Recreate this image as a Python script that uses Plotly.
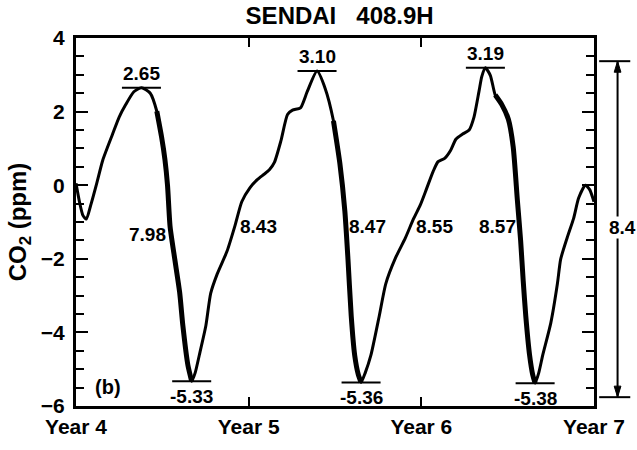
import plotly.graph_objects as go

# Detrended CO2 seasonal cycle at Sendai (408.9H), years 4-7
years = [
    4.000, 4.020, 4.040, 4.060, 4.085, 4.120, 4.155, 4.212, 4.250, 4.288,
    4.335, 4.379, 4.430, 4.468, 4.496, 4.515, 4.530, 4.545, 4.572, 4.600,
    4.619, 4.648, 4.670, 4.690, 4.714, 4.752, 4.780, 4.818, 4.875, 4.922,
    4.960, 5.007, 5.050, 5.090, 5.120, 5.149, 5.187, 5.225, 5.254, 5.300,
    5.339, 5.396, 5.443, 5.491, 5.528, 5.557, 5.575, 5.594, 5.614, 5.635,
    5.651, 5.675, 5.708, 5.756, 5.794, 5.851, 5.907, 5.955, 5.993, 6.030,
    6.068, 6.097, 6.135, 6.170, 6.200, 6.239, 6.277, 6.305, 6.334, 6.350,
    6.371, 6.400, 6.428, 6.466, 6.504, 6.532, 6.556, 6.575, 6.590, 6.605,
    6.627, 6.645, 6.659, 6.680, 6.703, 6.750, 6.788, 6.807, 6.845, 6.882,
    6.911, 6.950, 6.975, 7.000,
]
co2 = [
    0.05, -0.45, -0.82, -0.92, -0.55, 0.05, 0.68, 1.39, 1.85, 2.19,
    2.54, 2.65, 2.50, 2.01, 1.30, 0.70, 0.00, -1.13, -2.01, -2.90,
    -3.82, -4.89, -5.33, -5.10, -4.62, -3.82, -2.94, -2.41, -1.79, -1.08,
    -0.45, -0.07, 0.15, 0.30, 0.42, 0.62, 1.21, 1.92, 2.04, 2.10,
    2.54, 3.10, 2.63, 1.75, 0.60, -0.70, -2.00, -3.56, -4.62, -5.15,
    -5.36, -5.10, -4.62, -3.56, -2.68, -1.97, -1.44, -0.91, -0.55, -0.10,
    0.37, 0.64, 0.73, 0.95, 1.25, 1.39, 1.50, 1.85, 2.55, 2.95,
    3.19, 2.98, 2.45, 2.19, 1.79, 1.04, -0.40, -1.50, -2.60, -3.56,
    -4.62, -5.15, -5.38, -5.10, -4.62, -3.74, -2.68, -2.01, -1.42, -0.90,
    -0.35, 0.00, -0.12, -0.45,
]

peak_values = [2.65, 3.10, 3.19]
min_values = [-5.33, -5.36, -5.38]

# half-cycle amplitudes (ppm) and their mean
amplitudes = [7.98, 8.43, 8.47, 8.55, 8.57]
mean_amplitude = 8.4

year_ticks = [4, 5, 6, 7]
year_labels = ["Year 4", "Year 5", "Year 6", "Year 7"]

BLACK = "#000000"
FONT = "Liberation Sans"


def txt(size):
    return dict(family=FONT, size=size, color=BLACK, weight="bold")


# locate the extrema in the series
peak_idx = [co2.index(v) for v in peak_values]
min_idx = [co2.index(v) for v in min_values]

fig = go.Figure()

fig.add_trace(go.Scatter(
    x=years, y=co2, mode="lines",
    line=dict(color=BLACK, width=3, shape="spline", smoothing=0.6),
    hoverinfo="skip", showlegend=False,
))

# heavier stroke on the drawdown from each maximum to the following minimum
for p, m in zip(peak_idx, min_idx):
    seg = slice(p + 2, m + 1)
    fig.add_trace(go.Scatter(
        x=years[seg], y=co2[seg], mode="lines",
        line=dict(color=BLACK, width=5, shape="spline", smoothing=0.6),
        hoverinfo="skip", showlegend=False,
    ))

shapes = []
annotations = []
half = 0.113  # half-width of the extremum markers, in years

for i, v in zip(peak_idx, peak_values):
    xp = years[i]
    shapes.append(dict(type="line", xref="x", yref="y", x0=xp - half, x1=xp + half,
                       y0=v, y1=v, line=dict(color=BLACK, width=2)))
    annotations.append(dict(x=xp, y=v, xref="x", yref="y", text=f"{v:.2f}",
                            showarrow=False, yanchor="bottom", yshift=2, font=txt(19)))

for i, v in zip(min_idx, min_values):
    xp = years[i]
    shapes.append(dict(type="line", xref="x", yref="y", x0=xp - half, x1=xp + half,
                       y0=v, y1=v, line=dict(color=BLACK, width=2)))
    annotations.append(dict(x=xp, y=v, xref="x", yref="y", text=f"{v:.2f}",
                            showarrow=False, yanchor="top", yshift=-3, font=txt(19)))

amp_pos = [(4.415, -1.33), (5.055, -1.11), (5.69, -1.12), (6.078, -1.12), (6.44, -1.12)]
for (ax_, ay_), a in zip(amp_pos, amplitudes):
    annotations.append(dict(x=ax_, y=ay_, xref="x", yref="y", text=f"{a:.2f}",
                            showarrow=False, font=txt(19)))

# mean amplitude bracket outside the right axis
arrow_x = 1.0455
arrow_top, arrow_bottom = 3.37, -5.76
mid_y = -1.15
head_w, head_h = 0.0065, 0.30
for yv in (arrow_top, arrow_bottom):
    shapes.append(dict(type="line", xref="paper", yref="y", x0=1.01, x1=1.07,
                       y0=yv, y1=yv, line=dict(color=BLACK, width=2)))
shapes.append(dict(type="line", xref="paper", yref="y", x0=arrow_x, x1=arrow_x,
                   y0=arrow_top, y1=arrow_bottom, line=dict(color=BLACK, width=2)))
shapes.append(dict(type="path", xref="paper", yref="y",
                   path=f"M {arrow_x},{arrow_top} L {arrow_x - head_w},{arrow_top - head_h} "
                        f"L {arrow_x + head_w},{arrow_top - head_h} Z",
                   fillcolor=BLACK, line=dict(color=BLACK, width=1)))
shapes.append(dict(type="path", xref="paper", yref="y",
                   path=f"M {arrow_x},{arrow_bottom} L {arrow_x - head_w},{arrow_bottom + head_h} "
                        f"L {arrow_x + head_w},{arrow_bottom + head_h} Z",
                   fillcolor=BLACK, line=dict(color=BLACK, width=1)))
annotations.append(dict(x=1.027, y=mid_y, xref="paper", yref="y", text=f"{mean_amplitude:.1f}",
                        showarrow=False, xanchor="left", bgcolor="white", borderpad=0,
                        font=txt(19)))

annotations.append(dict(x=4.1875, y=-5.47, xref="x", yref="y", text="(b)",
                        showarrow=False, font=txt(20)))

fig.update_layout(
    width=637, height=450,
    margin=dict(l=76, r=33, t=38, b=33),
    paper_bgcolor="white", plot_bgcolor="white",
    title=dict(text="SENDAI   408.9H", x=0.509, xref="paper", xanchor="center",
               y=0.966, yref="container", yanchor="middle", font=txt(24)),
    xaxis=dict(range=[4, 7], tickvals=year_ticks, ticktext=year_labels,
               showline=True, linewidth=3, linecolor=BLACK, mirror="ticks",
               ticks="inside", ticklen=9, tickwidth=2, tickcolor=BLACK,
               showgrid=False, zeroline=False, tickfont=txt(21)),
    yaxis=dict(range=[-6, 4], tickvals=[-6, -4, -2, 0, 2, 4],
               showline=True, linewidth=3, linecolor=BLACK, mirror="ticks",
               ticks="inside", ticklen=12, tickwidth=2, tickcolor=BLACK,
               minor=dict(dtick=0.5, ticks="inside", ticklen=8, tickwidth=2, tickcolor=BLACK),
               showgrid=False, zeroline=False, tickfont=txt(21),
               ticklabelstandoff=4,
               title=dict(text="CO<sub>2</sub> (ppm)", standoff=8, font=txt(24))),
    shapes=shapes, annotations=annotations,
)

fig.write_html("out.html")
